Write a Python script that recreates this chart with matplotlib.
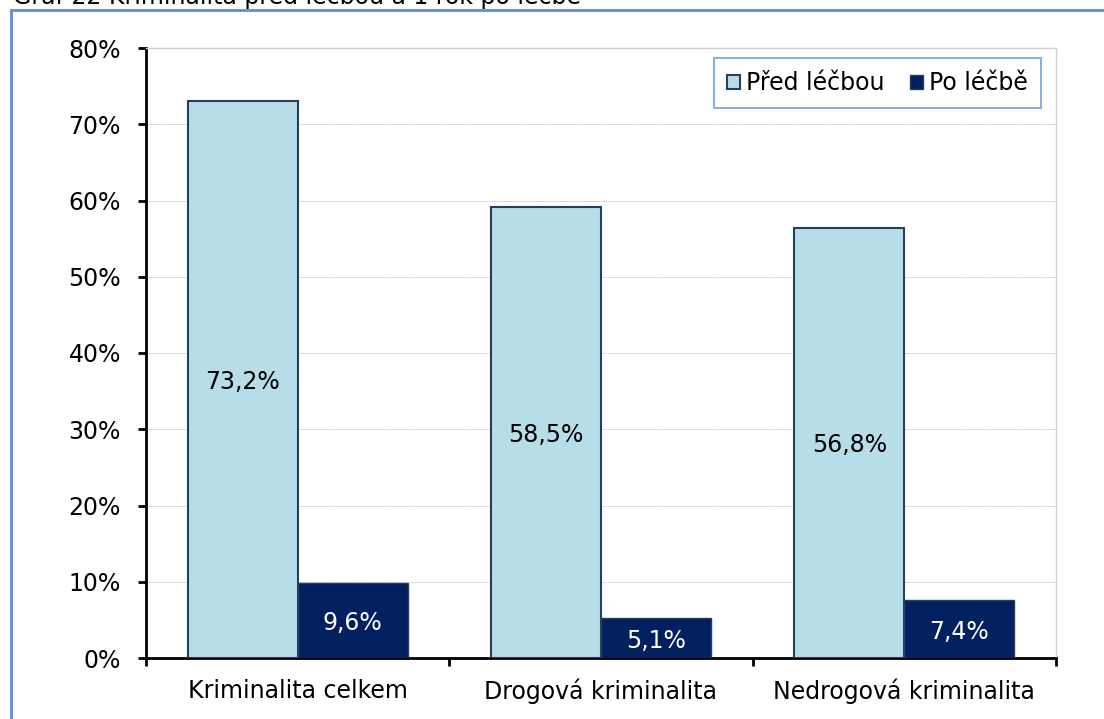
import matplotlib.pyplot as plt
from matplotlib.patches import Rectangle
from matplotlib.ticker import FuncFormatter
import numpy as np

categories = ["Kriminalita celkem", "Drogová kriminalita", "Nedrogová kriminalita"]
before = [73.1, 59.1, 56.4]
after = [9.8, 5.2, 7.6]
before_labels = ["73,2%", "58,5%", "56,8%"]
after_labels = ["9,6%", "5,1%", "7,4%"]

light = "#B7DDE8"
dark = "#002060"
edge = "#243F60"
fs = 17

W, H = 1104, 719
fig = plt.figure(figsize=(W / 100, H / 100), dpi=100)
ax = fig.add_axes([146 / W, (H - 658) / H, (1056 - 146) / W, (658 - 48) / H])

x = np.arange(len(categories))
bw = 0.363
b1 = ax.bar(x - bw / 2, before, bw, color=light, edgecolor=edge, linewidth=1.5,
            label="Před léčbou", zorder=3)
b2 = ax.bar(x + bw / 2, after, bw, color=dark, edgecolor=edge, linewidth=1.0,
            label="Po léčbě", zorder=3)

for rect, lab in zip(b1, before_labels):
    ax.text(rect.get_x() + rect.get_width() / 2, rect.get_height() / 2, lab,
            ha="center", va="center_baseline", fontsize=fs, color="black", zorder=4)
for rect, lab in zip(b2, after_labels):
    ax.text(rect.get_x() + rect.get_width() / 2, rect.get_height() / 2, lab,
            ha="center", va="center_baseline", fontsize=fs, color="white", zorder=4)

ax.set_ylim(0, 80)
ax.set_xlim(-0.5, 2.5)
ax.set_yticks(np.arange(0, 81, 10))
ax.yaxis.set_major_formatter(FuncFormatter(lambda v, p: f"{int(v)}%"))
ax.yaxis.grid(True, color="#c4c4c4", linestyle=(0, (1.5, 1)), linewidth=0.7, zorder=0)

ax.set_xticks([-0.5, 0.5, 1.5, 2.5])
ax.set_xticklabels([])
ax.set_xticks(x, minor=True)
ax.set_xticklabels(categories, minor=True)
ax.tick_params(axis="x", which="minor", length=0, pad=15, labelsize=fs)
ax.tick_params(axis="x", which="major", direction="out", length=6, width=2)
ax.tick_params(axis="y", direction="out", length=6, width=2, pad=12, labelsize=fs)

for s in ["left", "bottom"]:
    ax.spines[s].set_linewidth(2)
    ax.spines[s].set_color("black")
for s in ["top", "right"]:
    ax.spines[s].set_linewidth(1)
    ax.spines[s].set_color("#d0d0d0")

leg = ax.legend(loc="upper right", bbox_to_anchor=(1041 / W, (H - 58) / H),
                bbox_transform=fig.transFigure, ncol=2, fontsize=fs,
                frameon=True, fancybox=False, handlelength=0.55, handleheight=0.55,
                handletextpad=0.25, columnspacing=1.1, borderpad=0.55, borderaxespad=0)
leg.get_frame().set_edgecolor("#6A9BE0")
leg.get_frame().set_linewidth(1.5)

# outer frame of the chart object
fig.patches.append(Rectangle((11 / W, -0.05), 1.2, 1 - 10 / H + 0.05,
                             transform=fig.transFigure, fill=False,
                             edgecolor="#5B8ED6", linewidth=2))

fig.text(13 / W, 1 - 4 / H, "Graf 22 Kriminalita před léčbou a 1 rok po léčbě",
         fontsize=fs, va="baseline", ha="left")

fig.savefig("out.png", dpi=100)
